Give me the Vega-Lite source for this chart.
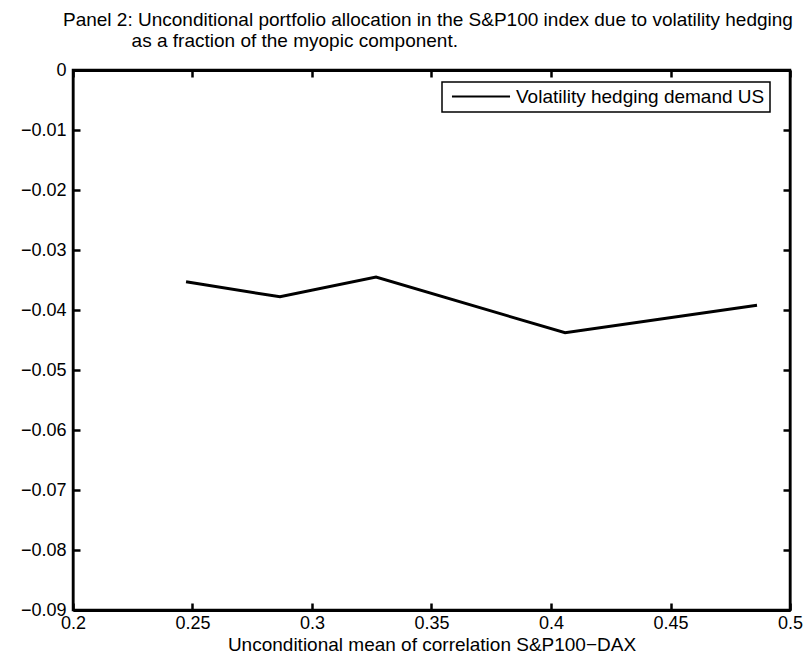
{
  "$schema": "https://vega.github.io/schema/vega-lite/v6.json",
  "width": 717,
  "height": 540,
  "autosize": {"type": "none"},
  "padding": {"left": 73, "top": 70, "right": 16, "bottom": 60},
  "background": "white",
  "config": {
    "font": "Liberation Sans",
    "view": {"stroke": "black", "strokeWidth": 2.5},
    "axis": {
      "grid": false,
      "labelFlush": false,
      "labelColor": "black",
      "labelFont": "Liberation Sans",
      "labelFontSize": 18,
      "titleFont": "Liberation Sans",
      "titleFontSize": 19,
      "titleFontWeight": "normal",
      "titleColor": "black"
    }
  },
  "title": {
    "text": [
      "Panel 2: Unconditional portfolio allocation in the S&P100 index due to volatility hedging",
      "\u200b\u00a0\u00a0\u00a0\u00a0\u00a0\u00a0\u00a0\u00a0\u00a0\u00a0\u00a0\u00a0\u00a0as a fraction of the myopic component."
    ],
    "anchor": "start",
    "frame": "group",
    "dx": -10,
    "offset": 10,
    "font": "Liberation Sans",
    "fontSize": 19,
    "fontWeight": "normal",
    "lineHeight": 21,
    "color": "black"
  },
  "data": {
    "values": [
      {"corr": 0.2473, "demand": -0.0353, "series": "Volatility hedging demand US"},
      {"corr": 0.2866, "demand": -0.0378, "series": "Volatility hedging demand US"},
      {"corr": 0.3268, "demand": -0.0345, "series": "Volatility hedging demand US"},
      {"corr": 0.4059, "demand": -0.0438, "series": "Volatility hedging demand US"},
      {"corr": 0.4862, "demand": -0.0392, "series": "Volatility hedging demand US"}
    ]
  },
  "layer": [
    {
      "mark": {"type": "line", "strokeWidth": 3},
      "encoding": {
        "x": {
          "field": "corr",
          "type": "quantitative",
          "scale": {"domain": [0.2, 0.5], "nice": false, "zero": false},
          "axis": {
            "orient": "bottom",
            "values": [0.2, 0.25, 0.3, 0.35, 0.4, 0.45, 0.5],
            "format": ".2~f",
            "domain": true,
            "domainColor": "black",
            "domainWidth": 3,
            "ticks": true,
            "tickColor": "black",
            "tickWidth": 2.5,
            "tickSize": -7,
            "labelPadding": 11,
            "title": "Unconditional mean of correlation S&P100\u2212DAX",
            "titlePadding": 3
          }
        },
        "y": {
          "field": "demand",
          "type": "quantitative",
          "scale": {"domain": [-0.09, 0], "nice": false, "zero": false},
          "axis": {
            "orient": "left",
            "values": [0, -0.01, -0.02, -0.03, -0.04, -0.05, -0.06, -0.07, -0.08, -0.09],
            "format": ".2~f",
            "domain": true,
            "domainColor": "black",
            "domainWidth": 2,
            "ticks": true,
            "tickColor": "black",
            "tickWidth": 2.5,
            "tickSize": -7,
            "labelPadding": 14,
            "title": null
          }
        },
        "color": {
          "field": "series",
          "type": "nominal",
          "scale": {"range": ["black"]},
          "legend": {
            "orient": "none",
            "legendX": 369,
            "legendY": 12,
            "title": null,
            "strokeColor": "black",
            "fillColor": "white",
            "padding": 5,
            "symbolType": "M-3.87,0H3.87",
            "symbolSize": 225,
            "symbolStrokeWidth": 2,
            "symbolStrokeColor": "black",
            "symbolOffset": 24.5,
            "labelOffset": 25.5,
            "labelFontSize": 19,
            "labelFont": "Liberation Sans",
            "labelColor": "black",
            "labelLimit": 400,
            "encode": {"legend": {"update": {"strokeWidth": {"value": 1.5}}}}
          }
        }
      }
    },
    {
      "mark": {"type": "line", "opacity": 0},
      "encoding": {
        "x": {
          "field": "corr",
          "type": "quantitative",
          "axis": {
            "orient": "top",
            "values": [0.2, 0.25, 0.3, 0.35, 0.4, 0.45, 0.5],
            "labels": false,
            "domain": true,
            "domainColor": "black",
            "domainWidth": 3,
            "ticks": true,
            "tickColor": "black",
            "tickWidth": 2.5,
            "tickSize": -7,
            "title": null
          }
        },
        "y": {
          "field": "demand",
          "type": "quantitative",
          "axis": {
            "orient": "right",
            "values": [0, -0.01, -0.02, -0.03, -0.04, -0.05, -0.06, -0.07, -0.08, -0.09],
            "labels": false,
            "domain": true,
            "domainColor": "black",
            "domainWidth": 2,
            "ticks": true,
            "tickColor": "black",
            "tickWidth": 2.5,
            "tickSize": -7,
            "title": null
          }
        }
      }
    }
  ],
  "resolve": {"axis": {"x": "independent", "y": "independent"}}
}
